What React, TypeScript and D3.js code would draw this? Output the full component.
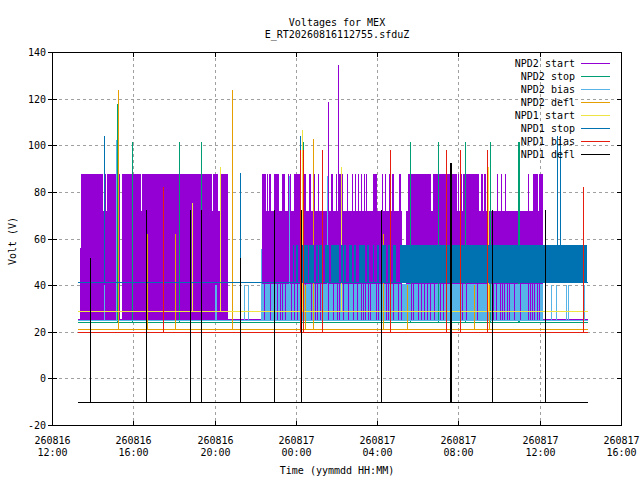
import React, { useEffect, useRef } from 'react';
import * as d3 from 'd3';

// all times are hours after 260816 00:00
const seriesNames = ['NPD2 start', 'NPD2 stop', 'NPD2 bias', 'NPD2 defl', 'NPD1 start', 'NPD1 stop', 'NPD1 bias', 'NPD1 defl'];
const baseLevels = [25.5, 24.3, 25, 21, 28.8, 41.2, 20, -10];
const timeSpan = [13.3, 38.33];
const yTicks = [-20, 0, 20, 40, 60, 80, 100, 120, 140];

// spikes: [hour, peak volt]
const npd2StartSpikes = [[25.57, 119], [26.08, 135]];
const npd2StopSpikes = [[15.19, 118], [15.94, 102], [18.24, 102], [19.32, 102], [24.34, 102], [29.6, 102], [30.98, 102], [32.31, 102], [33.53, 102], [34.92, 102], [35.0, 102]];
const npd2BiasSpikes = [[14.55, 40.5], [15.14, 102.7], [20.01, 40.5], [20.05, 40.5], [21.43, 40.5], [21.63, 40.5], [22.27, 56], [23.65, 87.3], [25.54, 87.3], [36.56, 40.5], [36.82, 40.5], [37.31, 40.5], [37.39, 40.5], [38.19, 40.5]];
const npd2DeflSpikes = [[15.24, 124], [16.66, 62.4], [18.04, 62.4], [20.84, 124], [24.45, 40.5], [24.83, 103], [28.27, 62.4], [29.45, 40.5], [32.75, 40.5], [33.49, 40.5]];
const npd1StartSpikes = [[18.88, 75.7], [20.25, 91], [24.29, 107], [26.21, 91], [33.45, 91]];
const npd1StopSpikes = [[14.55, 104.5], [21.24, 88.6], [24.19, 104.5], [36.85, 104.5], [37.0, 104.5]];
const npd1BiasSpikes = [[17.45, 82.5], [24.2, 98.5], [24.35, 98.5], [25.27, 98.5], [28.62, 98.5], [31.37, 98.5], [32.06, 98.5], [33.41, 98.5], [38.11, 82.5]];
const npd1DeflSpikes = [[13.87, 52], [16.62, 72.5], [18.78, 72.5], [19.32, 72.5], [21.24, 52], [22.91, 72.5], [24.24, 72.5], [28.17, 72.5], [31.6, 93], [31.64, 93], [33.63, 72.5], [36.24, 72.5]];

// NPD2 start toggles fast: filled runs [from, to, low, high]
const npd2StartLowRuns = [
  [13.4, 13.45, 25.5, 56], [13.45, 15.37, 25.5, 71.8], [15.45, 20.68, 25.5, 71.8],
  [22.35, 29.23, 25.5, 71.8], [29.42, 36.18, 25.5, 71.8],
];
const npd2StartHighRange = [71.8, 87.7];
const npd2StartHighRuns = [
  [13.45, 14.5], [14.57, 14.68], [14.73, 15.33], [15.45, 16.4], [16.45, 19.86], [19.91, 20.19], [20.25, 20.68],
  [22.35, 22.55], [22.59, 22.61], [22.66, 22.7], [22.75, 22.78], [22.9, 23.19], [23.32, 23.47], [23.6, 23.65],
  [23.72, 23.77], [23.93, 24.22], [24.29, 24.5], [24.63, 24.75], [24.85, 24.96], [25.07, 25.16], [25.75, 25.85],
  [25.96, 26.01], [26.09, 26.3], [26.5, 26.55], [26.78, 26.83], [26.91, 26.96], [27.04, 27.11], [27.22, 27.27],
  [27.34, 27.39], [27.44, 27.47], [27.81, 28.0], [28.26, 28.31], [28.4, 28.45], [28.57, 28.64], [28.71, 28.81],
  [29.06, 29.16], [29.54, 29.9], [29.93, 30.65], [30.73, 30.77], [30.81, 31.41], [31.45, 31.91], [32.0, 32.04],
  [32.11, 32.16], [32.23, 33.03], [33.13, 33.19], [33.26, 33.36], [33.91, 33.96], [34.1, 34.14], [34.29, 34.34],
  [35.4, 35.49], [35.65, 35.92], [35.98, 36.18],
];

// NPD2 bias fast band with short drop-outs
const npd2BiasBand = [22.35, 36.14, 25, 40.5];
const npd2BiasDrops = [
  22.45, 22.75, 22.94, 23.08, 23.21, 23.34, 23.47, 23.77, 23.89, 24.04, 24.47, 24.73, 24.93, 25.06, 25.17, 25.6,
  25.85, 26.03, 26.14, 26.34, 26.58, 26.8, 27.01, 27.19, 27.32, 27.42, 27.53, 27.65, 27.95, 28.03, 28.31, 28.44,
  28.55, 28.76, 29.01, 29.18, 29.67, 29.78, 29.99, 30.16, 30.29, 30.44, 30.6, 30.78, 31.0, 31.1, 31.26, 31.39,
  32.08, 32.18, 32.37, 32.9, 33.57, 33.72, 33.85, 34.03, 34.13, 34.26, 34.37, 34.5, 34.75, 35.03, 35.4, 35.5,
  35.6, 35.73, 35.85, 35.98,
];

// NPD1 stop fast band
const npd1StopRange = [41.2, 57.2];
const npd1StopRuns = [
  [23.84, 23.89], [24.01, 24.09], [24.26, 24.34], [24.42, 24.58], [24.67, 24.91], [25.0, 25.07], [25.16, 25.32],
  [25.44, 25.62], [25.73, 26.14], [26.23, 26.3], [26.39, 26.47], [26.63, 26.77], [26.88, 26.96], [27.09, 27.42],
  [27.5, 27.62], [27.78, 27.86], [27.98, 28.07], [28.24, 28.44], [28.52, 28.69], [28.76, 28.93], [29.14, 38.33],
];

const colors = ['#9400d3', '#009e73', '#56b4e9', '#e69f00', '#f0e442', '#0072b2', '#e51e10', '#000000'];
const font = '"DejaVu Sans Mono", monospace';

const App: React.FC = () => {
  const ref = useRef<SVGSVGElement>(null);

  useEffect(() => {
    const svg = d3.select(ref.current);
    svg.selectAll('*').remove();

    const base = Date.UTC(2026, 7, 16);
    const toDate = (h: number) => new Date(base + h * 3600000);
    const x = d3.scaleUtc().domain([toDate(12), toDate(40)]).range([52, 621]);
    const y = d3.scaleLinear().domain([-20, 140]).range([425, 52]);
    const X = (h: number) => Math.round(x(toDate(h)));
    const Y = (v: number) => Math.round(y(v));

    const xTicks = x.ticks(d3.utcHour.every(4) as any);

    // grid
    const grid = svg.append('g').attr('stroke', '#a0a0a0').attr('stroke-dasharray', '3,3');
    xTicks.slice(1, -1).forEach((t) => {
      const px = Math.round(x(t)) + 0.5;
      grid.append('line').attr('x1', px).attr('x2', px).attr('y1', 52).attr('y2', 425);
    });
    yTicks.slice(1, -1).forEach((v) => {
      const py = Y(v) + 0.5;
      grid.append('line').attr('x1', 53).attr('x2', 621).attr('y1', py).attr('y2', py);
    });

    const spikeSets = [npd2StartSpikes, npd2StopSpikes, npd2BiasSpikes, npd2DeflSpikes, npd1StartSpikes, npd1StopSpikes, npd1BiasSpikes, npd1DeflSpikes];

    const rect = (g: any, h0: number, h1: number, lo: number, hi: number, c: string) => {
      const x0 = X(h0);
      const x1 = X(h1);
      const y0 = Y(hi);
      const y1 = Y(lo);
      g.append('rect').attr('x', x0).attr('y', y0)
        .attr('width', Math.max(1, x1 - x0)).attr('height', Math.max(1, y1 - y0 + 1)).attr('fill', c);
    };

    const data = svg.append('g');
    seriesNames.forEach((name, i) => {
      const g = data.append('g').attr('stroke', colors[i]).attr('fill', 'none');
      const c = colors[i];
      if (i === 0) {
        npd2StartLowRuns.forEach(([a, b, lo, hi]) => rect(g, a, b, lo, hi, c));
        npd2StartHighRuns.forEach(([a, b]) => rect(g, a, b, npd2StartHighRange[0], npd2StartHighRange[1], c));
      }
      if (i === 2) {
        const [a, b, lo, hi] = npd2BiasBand;
        let start = X(a);
        [...npd2BiasDrops].sort((p, q) => p - q).forEach((d) => {
          const gx = X(d);
          if (gx > start) g.append('rect').attr('x', start).attr('y', Y(hi)).attr('width', gx - start)
            .attr('height', Y(lo) - Y(hi) + 1).attr('fill', c).attr('stroke', 'none');
          start = gx + 1;
        });
        g.append('rect').attr('x', start).attr('y', Y(hi)).attr('width', Math.max(1, X(b) - start))
          .attr('height', Y(lo) - Y(hi) + 1).attr('fill', c).attr('stroke', 'none');
      }
      if (i === 5) {
        npd1StopRuns.forEach(([a, b]) => rect(g, a, b, npd1StopRange[0], npd1StopRange[1], c));
      }
      g.selectAll('rect').attr('stroke', 'none');

      const by = Y(baseLevels[i]) + 0.5;
      g.append('line').attr('x1', X(timeSpan[0])).attr('x2', X(timeSpan[1]) + 1).attr('y1', by).attr('y2', by);

      spikeSets[i].forEach(([t, v]) => {
        const px = X(t) + 0.5;
        g.append('line').attr('x1', px).attr('x2', px).attr('y1', by).attr('y2', Y(v) + 0.5);
      });
    });

    // border and ticks
    const axes = svg.append('g').attr('stroke', '#000');
    axes.append('rect').attr('x', 52.5).attr('y', 52.5).attr('width', 569).attr('height', 373).attr('fill', 'none');
    xTicks.forEach((t) => {
      const px = Math.round(x(t)) + 0.5;
      axes.append('line').attr('x1', px).attr('x2', px).attr('y1', 425).attr('y2', 421);
      axes.append('line').attr('x1', px).attr('x2', px).attr('y1', 52).attr('y2', 57);
    });
    yTicks.forEach((v) => {
      const py = Y(v) + 0.5;
      axes.append('line').attr('x1', 48).attr('x2', 57).attr('y1', py).attr('y2', py);
      axes.append('line').attr('x1', 617).attr('x2', 621).attr('y1', py).attr('y2', py);
    });

    const txt = svg.append('g').attr('font-family', font).attr('font-size', 10).attr('fill', '#000');
    yTicks.forEach((v) => {
      txt.append('text').attr('x', 46).attr('y', Y(v) + 4).attr('text-anchor', 'end').text(String(v));
    });
    const fDay = d3.utcFormat('%y%m%d');
    const fTime = d3.utcFormat('%H:%M');
    xTicks.forEach((t) => {
      const px = Math.round(x(t)) + 0.5;
      txt.append('text').attr('x', px).attr('y', 444).attr('text-anchor', 'middle').text(fDay(t));
      txt.append('text').attr('x', px).attr('y', 456).attr('text-anchor', 'middle').text(fTime(t));
    });

    txt.append('text').attr('x', 337).attr('y', 26).attr('text-anchor', 'middle').text('Voltages for MEX');
    txt.append('text').attr('x', 337).attr('y', 38).attr('text-anchor', 'middle').text('E_RT20260816112755.sfduZ');
    txt.append('text').attr('x', 337).attr('y', 474).attr('text-anchor', 'middle').text('Time (yymmdd HH:MM)');
    txt.append('text').attr('transform', 'translate(16,241) rotate(-90)').attr('text-anchor', 'middle').text('Volt (V)');

    // legend
    seriesNames.forEach((name, i) => {
      const ry = 63 + i * 13;
      txt.append('text').attr('x', 575).attr('y', ry + 4).attr('text-anchor', 'end').text(name);
      svg.append('line').attr('x1', 581).attr('x2', 610).attr('y1', ry + 0.5).attr('y2', ry + 0.5).attr('stroke', colors[i]);
    });
  }, []);

  return (
    <svg
      ref={ref}
      width={640}
      height={480}
      shapeRendering="crispEdges"
      style={{ position: 'absolute', left: 0, top: 0, background: '#fff' }}
    />
  );
};

export default App;
